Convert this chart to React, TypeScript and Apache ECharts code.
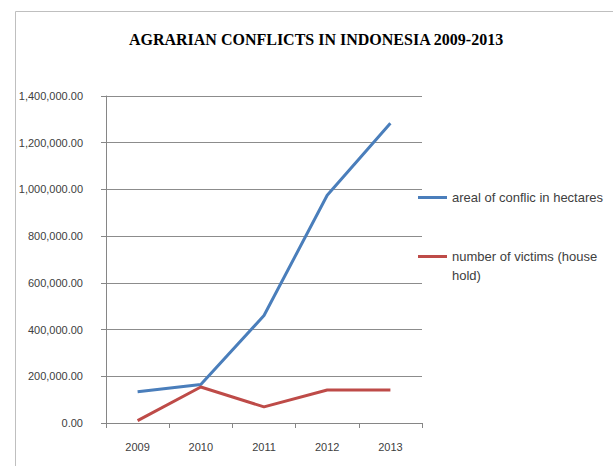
import React, { useEffect, useRef } from "react";
import * as echarts from "echarts";

const titleText = "AGRARIAN CONFLICTS IN INDONESIA 2009-2013";
const years = ["2009", "2010", "2011", "2012", "2013"];
const arealName = "areal of conflic in hectares";
const victimsName = "number of victims (house hold)";
const arealValues = [134000, 165000, 460000, 975000, 1283000];
const victimsValues = [10000, 154000, 69000, 141000, 141000];
const yMin = 0;
const yMax = 1400000;
const yInterval = 200000;

export default function App() {
  const ref = useRef<HTMLDivElement>(null);
  useEffect(() => {
    if (!ref.current) return;
    const chart = echarts.init(ref.current, undefined, { renderer: "svg" });
    chart.setOption({
      animation: false,
      backgroundColor: "#ffffff",
      title: {
        text: titleText,
        left: 316,
        top: 31,
        textAlign: "center",
        padding: 0,
        textStyle: {
          fontFamily: "Liberation Serif",
          fontWeight: "bold",
          fontSize: 16,
          color: "#000000",
        },
      },
      graphic: [
        {
          type: "polyline",
          shape: { points: [[15.5, 470], [15.5, 11.5], [620, 11.5]] },
          style: { stroke: "#bfbfbf", lineWidth: 1, fill: "none" },
          silent: true,
        },
      ],
      legend: {
        orient: "vertical",
        left: 413,
        top: 183,
        itemWidth: 29,
        itemHeight: 3,
        itemGap: 21,
        icon: "rect",
        formatter: (name: string) =>
          name === victimsName ? "number of victims (house\nhold)" : name,
        textStyle: {
          fontFamily: "Liberation Sans",
          fontSize: 13,
          color: "#404040",
          lineHeight: 19,
          rich: {},
        },
        data: [
          { name: arealName },
          {
            name: victimsName,
            textStyle: { padding: [19, 0, 0, 0] },
          },
        ],
      },
      grid: { left: 106, right: 191, top: 96, bottom: 43 },
      xAxis: {
        type: "category",
        data: years,
        boundaryGap: true,
        axisLine: { lineStyle: { color: "#868686", width: 1 } },
        axisTick: { show: true, length: 5, alignWithLabel: false, lineStyle: { color: "#868686" } },
        axisLabel: {
          margin: 18,
          fontFamily: "Liberation Sans",
          fontSize: 11,
          color: "#404040",
        },
      },
      yAxis: {
        type: "value",
        min: yMin,
        max: yMax,
        interval: yInterval,
        axisLine: { show: true, lineStyle: { color: "#868686", width: 1 } },
        axisTick: { show: true, length: 5, lineStyle: { color: "#868686" } },
        splitLine: { lineStyle: { color: "#8c8c8c", width: 1 } },
        axisLabel: {
          margin: 23,
          fontFamily: "Liberation Sans",
          fontSize: 11,
          color: "#404040",
          formatter: (v: number) =>
            v.toLocaleString("en-US", { minimumFractionDigits: 2, maximumFractionDigits: 2 }),
        },
      },
      series: [
        {
          name: arealName,
          type: "line",
          data: arealValues,
          showSymbol: false,
          symbol: "none",
          color: "#4a7ebb",
          lineStyle: { color: "#4a7ebb", width: 3 },
        },
        {
          name: victimsName,
          type: "line",
          data: victimsValues,
          showSymbol: false,
          symbol: "none",
          color: "#be4b48",
          lineStyle: { color: "#be4b48", width: 3 },
        },
      ],
    });
    return () => chart.dispose();
  }, []);
  return <div ref={ref} style={{ width: 613, height: 466, position: "absolute", left: 0, top: 0 }} />;
}
